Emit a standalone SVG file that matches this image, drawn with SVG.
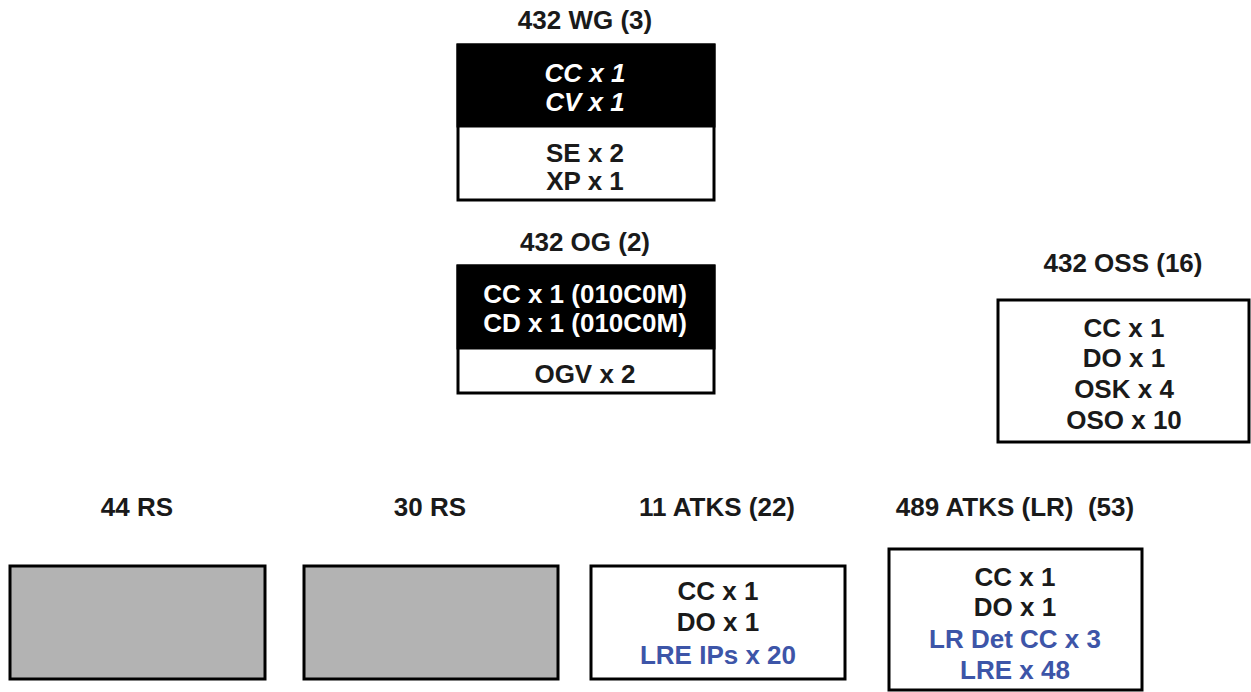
<svg xmlns="http://www.w3.org/2000/svg" width="1251" height="692" viewBox="0 0 1251 692">
<style>
text{font-family:"Liberation Sans",Arial,sans-serif;font-weight:bold;font-size:26px;text-anchor:middle;fill:#1a1a1a}
.w{fill:#ffffff;font-style:italic}
.wn{fill:#ffffff}
.b{fill:#3d55a8}
.box{fill:#ffffff;stroke:#000;stroke-width:3}
.blk{fill:#000;stroke:#000;stroke-width:3}
.gry{fill:#b3b3b3;stroke:#000;stroke-width:3}
</style>
<rect width="1251" height="692" fill="#ffffff"/>
<g id="wg">
<text x="585" y="29">432 WG (3)</text>
<rect class="box" x="458" y="45" width="256" height="155"/>
<rect class="blk" x="458" y="45" width="256" height="81"/>
<text class="w" x="585" y="82">CC x 1</text>
<text class="w" x="585" y="111">CV x 1</text>
<text x="585" y="162">SE x 2</text>
<text x="585" y="190">XP x 1</text>
</g>
<g id="og">
<text x="585" y="251">432 OG (2)</text>
<rect class="box" x="458" y="266" width="256" height="127"/>
<rect class="blk" x="458" y="266" width="256" height="82"/>
<text class="wn" x="585" y="303">CC x 1 (010C0M)</text>
<text class="wn" x="585" y="332">CD x 1 (010C0M)</text>
<text x="585" y="383">OGV x 2</text>
</g>
<g id="oss">
<text x="1123" y="272">432 OSS (16)</text>
<rect class="box" x="998" y="300" width="251" height="142"/>
<text x="1124" y="337">CC x 1</text>
<text x="1124" y="367">DO x 1</text>
<text x="1124" y="398">OSK x 4</text>
<text x="1124" y="429">OSO x 10</text>
</g>
<g id="rs44">
<text x="137" y="516">44 RS</text>
<rect class="gry" x="10" y="566" width="255" height="113"/>
</g>
<g id="rs30">
<text x="430" y="516">30 RS</text>
<rect class="gry" x="304" y="566" width="254" height="113"/>
</g>
<g id="atks11">
<text x="717" y="516">11 ATKS (22)</text>
<rect class="box" x="591" y="566" width="254" height="113"/>
<text x="718" y="600">CC x 1</text>
<text x="718" y="631">DO x 1</text>
<text class="b" x="718" y="664">LRE IPs x 20</text>
</g>
<g id="atks489">
<text x="1015" y="516" xml:space="preserve">489 ATKS (LR)  (53)</text>
<rect class="box" x="889" y="549" width="253" height="141"/>
<text x="1015" y="586">CC x 1</text>
<text x="1015" y="616">DO x 1</text>
<text class="b" x="1015" y="648">LR Det CC x 3</text>
<text class="b" x="1015" y="679">LRE x 48</text>
</g>
<g id="connectors"></g>
</svg>
